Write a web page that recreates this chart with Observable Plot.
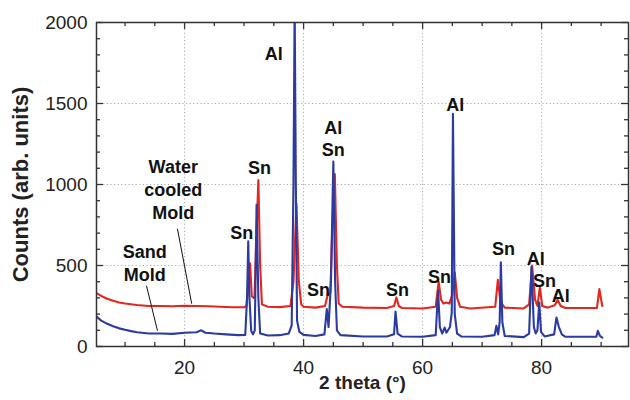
<!DOCTYPE html>
<html>
<head>
<meta charset="utf-8">
<script src="https://cdn.jsdelivr.net/npm/d3@7"></script>
<script src="https://cdn.jsdelivr.net/npm/@observablehq/plot@0.6"></script>
<style>
  html, body { margin: 0; padding: 0; background: #fff; }
  svg { font-family: "Liberation Sans", Arial, sans-serif; }
</style>
</head>
<body>
<div id="chart"></div>
<script>
// Water cooled mold (red) — 2 theta, counts
const redX = [5.2, 6, 7, 8, 9, 10, 12, 14, 16, 18, 20, 22, 24, 26, 28, 30, 30.4, 30.7, 31.0, 31.3, 31.6, 31.75, 32.0, 32.4, 32.7, 33.0, 34, 36, 37.8, 38.3, 38.8, 39.2, 39.6, 40, 42, 43.6, 44.1, 44.5, 44.8, 45.25, 45.6, 45.9, 46.5, 50, 54, 55.2, 55.6, 56.0, 56.5, 60, 62.2, 62.7, 63.1, 63.5, 64.0, 64.5, 65.0, 65.4, 65.8, 66.3, 68, 72.2, 72.65, 73.0, 73.4, 73.8, 77, 77.9, 78.4, 78.9, 79.3, 79.7, 80.1, 81, 82.2, 82.7, 83.2, 84, 89.3, 89.7, 90.0, 90.2];
const redY = [330, 312, 295, 282, 272, 265, 256, 250, 250, 248, 252, 250, 248, 245, 242, 242, 252, 380, 513, 310, 300, 305, 600, 1028, 500, 260, 245, 243, 250, 400, 880, 400, 260, 245, 240, 250, 325, 330, 700, 1065, 500, 265, 245, 240, 238, 250, 303, 250, 238, 235, 245, 400, 290, 265, 272, 265, 320, 457, 300, 245, 235, 245, 412, 300, 260, 240, 235, 260, 499, 290, 250, 365, 250, 240, 255, 289, 250, 238, 238, 354, 290, 250];

// Sand mold (blue)
const blueX = [5.2, 6, 7, 8, 9, 10, 11, 12, 14, 16, 18, 20, 22, 22.8, 23.5, 25, 27, 29, 30.2, 30.5, 30.7, 30.9, 31.2, 31.5, 31.8, 32.1, 32.4, 32.7, 34, 36, 37.5, 38.0, 38.3, 38.5, 38.7, 38.9, 39.3, 40, 42, 43.5, 43.9, 44.2, 44.6, 45.0, 45.3, 45.6, 46.2, 50, 54, 55.2, 55.45, 55.8, 56.5, 60, 62.2, 62.6, 62.9, 63.3, 63.7, 64.0, 64.6, 64.9, 65.1, 65.4, 65.8, 66.5, 70, 72.1, 72.4, 72.7, 72.95, 73.15, 73.4, 73.8, 77, 77.9, 78.3, 78.7, 79.0, 79.3, 79.6, 79.9, 80.5, 82.1, 82.5, 82.9, 83.4, 84, 89.2, 89.45, 89.8, 90.2];
const blueY = [185, 160, 140, 125, 112, 103, 95, 88, 80, 80, 78, 85, 88, 100, 85, 80, 75, 70, 72, 300, 649, 300, 95, 75, 100, 875, 300, 80, 68, 70, 80, 130, 1000, 2100, 1000, 160, 90, 72, 65, 75, 231, 120, 400, 1141, 400, 100, 70, 62, 62, 75, 216, 80, 62, 60, 70, 344, 120, 80, 117, 85, 120, 210, 1436, 200, 80, 62, 60, 70, 128, 75, 150, 519, 150, 65, 58, 80, 492, 120, 80, 100, 272, 90, 62, 75, 179, 120, 75, 60, 60, 97, 65, 55];

// Peak labels
const annText = ["Al", "Water\ncooled\nMold", "Sn", "Sand\nMold", "Sn", "Sn", "Al\nSn", "Al", "Sn", "Sn", "Sn", "Al", "Sn", "Al"];
const annX = [35.0, 18.1, 32.6, 13.3, 29.6, 42.5, 45.0, 65.5, 55.8, 62.85, 73.6, 79.0, 80.5, 83.2];
const annY = [1815, 974, 1110, 520, 709, 356, 1289, 1500, 356, 437, 610, 548, 412, 319];

// Leader lines (from label to curve)
const leadX1 = [18.8, 13.6];
const leadY1 = [727, 375];
const leadX2 = [21.2, 15.45];
const leadY2 = [264, 97];

const xDomain = [5.2, 94.6];
const yDomain = [0, 2000];
const xMajor = [20, 40, 60, 80];
const xMinor = [10, 15, 25, 30, 35, 45, 50, 55, 65, 70, 75, 85, 90];
const yMajor = [0, 500, 1000, 1500, 2000];
const yMinor = [100, 200, 300, 400, 600, 700, 800, 900, 1100, 1200, 1300, 1400, 1600, 1700, 1800, 1900];
const yGrid = [500, 1000, 1500];

const red = redX.map((x, i) => ({x, y: redY[i]}));
const blue = blueX.map((x, i) => ({x, y: blueY[i]}));
const ann = annText.map((t, i) => ({t, x: annX[i], y: annY[i]}));
const leads = leadX1.map((x, i) => ({x1: x, y1: leadY1[i], x2: leadX2[i], y2: leadY2[i]}));

const W = 630, H = 400, mL = 96, mR = 2, mT = 22, mB = 54;
// convert tick lengths in pixels to data units
const xPerPx = (xDomain[1] - xDomain[0]) / (W - mL - mR);
const yPerPx = (yDomain[1] - yDomain[0]) / (H - mT - mB);
const majLen = 7, minLen = 4;

const axisColor = "#333";
const tickStyle = {stroke: axisColor, strokeWidth: 1.3};

const chart = Plot.plot({
  width: W,
  height: H,
  marginLeft: mL,
  marginRight: mR,
  marginTop: mT,
  marginBottom: mB,
  style: {fontFamily: "'Liberation Sans', Arial, sans-serif", background: "#fff"},
  x: {domain: xDomain},
  y: {domain: yDomain},
  marks: [
    Plot.ruleX(xMajor, {stroke: "#aaa", strokeDasharray: "1.2,2.4", strokeWidth: 1}),
    Plot.ruleY(yGrid, {stroke: "#aaa", strokeDasharray: "1.2,2.4", strokeWidth: 1}),
    // tick labels
    Plot.axisX(xMajor, {anchor: "bottom", tickSize: 0, tickPadding: 14, fontSize: 19, fill: "#222", label: null, tickFormat: d3.format("d")}),
    Plot.axisY(yMajor, {anchor: "left", tickSize: 0, tickPadding: 9, fontSize: 19, fill: "#222", label: null, tickFormat: d3.format("d")}),
    // inward ticks (bottom, top, left, right)
    Plot.ruleX(xMajor, {x: d => d, y1: yDomain[0], y2: yDomain[0] + majLen * yPerPx, ...tickStyle}),
    Plot.ruleX(xMinor, {x: d => d, y1: yDomain[0], y2: yDomain[0] + minLen * yPerPx, ...tickStyle}),
    Plot.ruleX(xMajor, {x: d => d, y1: yDomain[1], y2: yDomain[1] - majLen * yPerPx, ...tickStyle}),
    Plot.ruleX(xMinor, {x: d => d, y1: yDomain[1], y2: yDomain[1] - minLen * yPerPx, ...tickStyle}),
    Plot.ruleY(yMajor, {y: d => d, x1: xDomain[0], x2: xDomain[0] + majLen * xPerPx, ...tickStyle}),
    Plot.ruleY(yMinor, {y: d => d, x1: xDomain[0], x2: xDomain[0] + minLen * xPerPx, ...tickStyle}),
    Plot.ruleY(yMajor, {y: d => d, x1: xDomain[1], x2: xDomain[1] - majLen * xPerPx, ...tickStyle}),
    Plot.ruleY(yMinor, {y: d => d, x1: xDomain[1], x2: xDomain[1] - minLen * xPerPx, ...tickStyle}),
    // data
    Plot.line(red, {x: "x", y: "y", stroke: "#e3261f", strokeWidth: 2.1, clip: true}),
    Plot.line(blue, {x: "x", y: "y", stroke: "#2b3b9f", strokeWidth: 2.1, clip: true}),
    // annotations
    Plot.link(leads, {x1: "x1", y1: "y1", x2: "x2", y2: "y2", stroke: "#111", strokeWidth: 1}),
    Plot.text(ann, {x: "x", y: "y", text: "t", fontSize: 18, fontWeight: "bold", fill: "#111", lineHeight: 1.27, textAnchor: "middle"}),
    // axis titles
    Plot.text(["2 theta (°)"], {frameAnchor: "bottom", dy: 42, fontSize: 19, fontWeight: "bold", fill: "#222", textAnchor: "middle"}),
    Plot.text(["Counts (arb. units)"], {frameAnchor: "left", dx: -76, rotate: -90, fontSize: 22, fontWeight: "bold", fill: "#222", textAnchor: "middle"}),
    Plot.frame({stroke: axisColor, strokeWidth: 1.5})
  ]
});
document.getElementById("chart").appendChild(chart);
</script>
</body>
</html>
